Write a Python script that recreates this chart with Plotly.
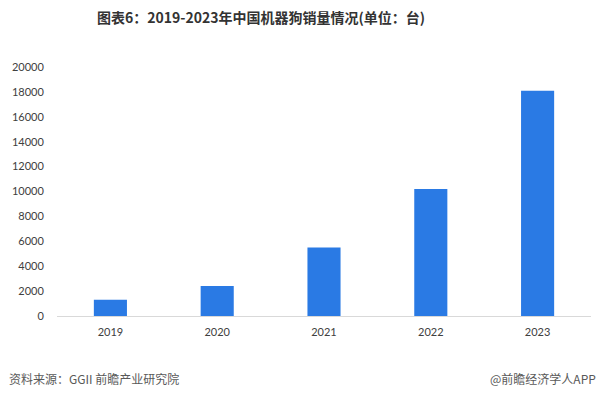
import plotly.graph_objects as go

years = ["2019", "2020", "2021", "2022", "2023"]
sales = [1300, 2400, 5500, 10200, 18100]
y_ticks = [0, 2000, 4000, 6000, 8000, 10000, 12000, 14000, 16000, 18000, 20000]

title_text = "图表6：2019-2023年中国机器狗销量情况(单位：台)"
source_text = "资料来源：GGII 前瞻产业研究院"
brand_text = "@前瞻经济学人APP"

fig = go.Figure()
fig.add_trace(go.Bar(
    x=years, y=sales,
    marker=dict(color="#2A7AE4", line=dict(width=0)),
    width=0.31,
))

fig.update_layout(
    width=602, height=393,
    margin=dict(l=57, r=11, t=67, b=77),
    paper_bgcolor="white", plot_bgcolor="white",
    showlegend=False,
    font=dict(family="Lato, Open Sans, sans-serif", size=11, color="#404040"),
    xaxis=dict(
        showgrid=False, zeroline=False,
        showline=True, linecolor="#D9D9D9", linewidth=1,
        ticks="outside", ticklen=6, tickcolor="rgba(0,0,0,0)",
        tickfont=dict(size=11, color="#404040"),
    ),
    yaxis=dict(
        range=[0, 20000], tickvals=y_ticks,
        ticktext=[str(v) for v in y_ticks],
        showgrid=False, zeroline=False, showline=False,
        ticks="outside", ticklen=10, tickcolor="rgba(0,0,0,0)",
        tickfont=dict(size=11, color="#404040"),
    ),
)

fig.add_annotation(text="<b>" + title_text + "</b>", xref="paper", yref="paper",
                   x=(261 - 57) / 534, y=(316 - 17) / 249,
                   xanchor="center", yanchor="middle", showarrow=False,
                   font=dict(family="Noto Sans CJK SC", size=14, color="#333333"))
fig.add_annotation(text=source_text, xref="paper", yref="paper",
                   x=-50 / 534, y=-(378 - 316) / 249, xanchor="left", yanchor="middle",
                   showarrow=False,
                   font=dict(family="Noto Sans CJK SC", size=12, color="#595959"))
fig.add_annotation(text=brand_text, xref="paper", yref="paper",
                   x=(598 - 57) / 534, y=-(378 - 316) / 249, xanchor="right", yanchor="middle",
                   showarrow=False,
                   font=dict(family="Noto Sans CJK SC", size=12, color="#595959"))

fig.write_html("out.html", config={"displayModeBar": False},
               post_script="document.body.style.margin='0';document.body.style.overflow='hidden';")
